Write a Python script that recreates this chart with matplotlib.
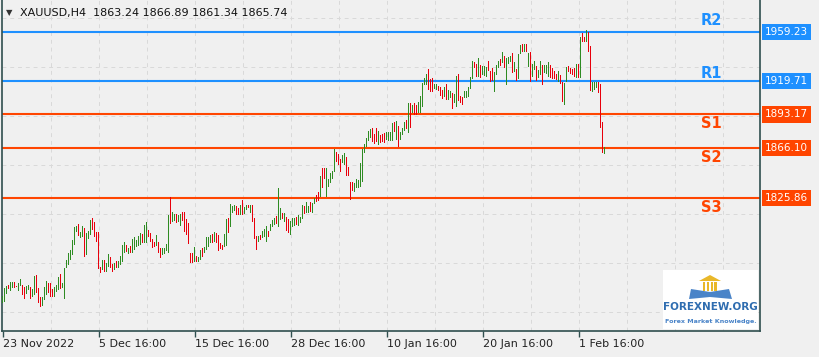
import numpy as np
import matplotlib
matplotlib.use('Agg')
import matplotlib.pyplot as plt
from matplotlib.patches import Polygon, Rectangle

# XAUUSD H4 bars (high, low, bullish flag)
highs = [1747.1, 1753.6, 1755.2, 1756.0, 1758.4, 1758.4, 1758.4, 1755.2, 1757.6, 1760.8,
         1756.0, 1754.4, 1755.2, 1756.0, 1754.4, 1752.8, 1763.2, 1764.0, 1753.6, 1746.3,
         1746.3, 1754.4, 1759.2, 1757.6, 1757.6, 1752.8, 1754.4, 1756.0, 1762.4, 1764.8,
         1757.6, 1769.6, 1776.1, 1781.7, 1784.1, 1792.1, 1802.6, 1803.4, 1805.0, 1798.6,
         1803.4, 1801.8, 1797.8, 1799.4, 1808.2, 1809.8, 1806.6, 1798.6, 1798.6, 1770.4,
         1776.1, 1776.1, 1773.7, 1780.9, 1778.5, 1772.9, 1773.7, 1775.3, 1775.3, 1779.3,
         1788.1, 1790.5, 1788.1, 1785.7, 1787.3, 1792.9, 1794.5, 1792.1, 1795.3, 1797.8,
         1797.0, 1804.2, 1806.6, 1800.2, 1797.8, 1792.9, 1790.5, 1796.1, 1790.5, 1785.7,
         1785.7, 1785.7, 1788.9, 1812.2, 1826.7, 1814.6, 1813.0, 1813.0, 1812.2, 1813.0,
         1814.6, 1814.6, 1809.0, 1805.8, 1781.7, 1781.7, 1786.5, 1779.3, 1778.5, 1784.1,
         1785.7, 1786.5, 1794.5, 1794.5, 1796.1, 1797.0, 1798.6, 1797.8, 1796.1, 1789.7,
         1788.1, 1797.0, 1809.0, 1809.8, 1821.0, 1819.4, 1820.2, 1819.4, 1817.8, 1820.2,
         1824.3, 1818.6, 1820.2, 1820.2, 1820.2, 1820.2, 1809.8, 1795.3, 1795.3, 1796.1,
         1799.4, 1801.0, 1803.4, 1799.4, 1805.0, 1808.2, 1809.8, 1811.4, 1833.9, 1817.8,
         1813.8, 1813.8, 1810.6, 1809.0, 1807.4, 1809.8, 1809.8, 1810.6, 1812.2, 1810.6,
         1820.2, 1819.4, 1822.7, 1819.4, 1822.7, 1821.9, 1825.9, 1828.3, 1830.7, 1843.5,
         1850.0, 1850.0, 1850.0, 1841.1, 1846.0, 1847.6, 1865.2, 1862.8, 1861.2, 1857.2,
         1860.4, 1862.0, 1858.8, 1850.8, 1838.7, 1838.7, 1837.9, 1841.1, 1840.3, 1854.0,
         1865.2, 1869.2, 1874.1, 1879.7, 1881.3, 1882.1, 1877.3, 1882.1, 1879.7, 1876.5,
         1877.3, 1878.1, 1878.9, 1878.9, 1878.9, 1886.1, 1886.9, 1887.7, 1883.7, 1878.9,
         1882.1, 1886.9, 1888.5, 1902.2, 1902.2, 1900.6, 1902.2, 1900.6, 1903.0, 1907.8,
         1918.3, 1922.3, 1925.5, 1929.5, 1921.5, 1922.3, 1917.5, 1917.5, 1915.9, 1915.0,
         1912.6, 1915.0, 1917.5, 1912.6, 1911.8, 1910.2, 1909.4, 1923.9, 1925.5, 1907.8,
         1907.0, 1911.8, 1911.8, 1915.0, 1923.1, 1935.9, 1935.1, 1933.5, 1938.3, 1932.7,
         1931.9, 1931.9, 1931.1, 1935.9, 1927.9, 1930.3, 1927.1, 1932.7, 1935.9, 1937.5,
         1943.2, 1940.0, 1938.3, 1939.1, 1940.0, 1942.4, 1935.1, 1929.5, 1941.6, 1948.8,
         1949.6, 1949.6, 1949.6, 1942.4, 1943.2, 1933.5, 1935.9, 1931.9, 1928.7, 1935.9,
         1932.7, 1932.7, 1932.7, 1935.1, 1932.7, 1930.3, 1927.9, 1925.5, 1927.9, 1924.7,
         1919.1, 1918.3, 1931.1, 1931.9, 1930.3, 1929.5, 1930.3, 1933.5, 1933.5, 1955.2,
         1958.4, 1955.2, 1960.8, 1959.2, 1948.0, 1919.1, 1919.1, 1919.1, 1919.1, 1917.5,
         1886.9, 1866.89]
lows = [1741.5, 1742.3, 1748.7, 1752.8, 1751.1, 1753.6, 1753.6, 1754.4, 1751.1, 1755.2,
        1747.9, 1744.7, 1748.7, 1752.0, 1744.7, 1746.3, 1747.9, 1749.5, 1741.5, 1738.3,
        1739.1, 1743.9, 1747.9, 1749.5, 1746.3, 1746.3, 1746.3, 1750.3, 1752.0, 1752.8,
        1753.6, 1744.7, 1769.6, 1772.0, 1776.1, 1780.1, 1788.1, 1798.6, 1795.3, 1793.7,
        1794.5, 1778.5, 1780.1, 1792.9, 1796.1, 1800.2, 1794.5, 1790.5, 1768.8, 1765.6,
        1768.0, 1766.4, 1766.4, 1770.4, 1769.6, 1766.4, 1768.0, 1769.6, 1769.6, 1772.0,
        1774.5, 1781.7, 1782.5, 1780.9, 1781.7, 1781.7, 1784.1, 1786.5, 1787.3, 1788.1,
        1789.7, 1789.7, 1789.7, 1794.5, 1790.5, 1785.7, 1786.5, 1787.3, 1781.7, 1777.7,
        1780.1, 1780.9, 1783.3, 1781.7, 1805.0, 1806.6, 1807.4, 1805.8, 1806.6, 1803.4,
        1807.4, 1798.6, 1796.1, 1788.9, 1773.7, 1773.7, 1774.5, 1774.5, 1774.5, 1776.1,
        1778.5, 1781.7, 1784.1, 1786.5, 1789.7, 1789.7, 1790.5, 1789.7, 1783.3, 1784.9,
        1784.1, 1786.5, 1787.3, 1797.8, 1802.6, 1813.8, 1815.4, 1812.2, 1812.2, 1812.2,
        1812.2, 1813.0, 1816.2, 1817.8, 1813.8, 1806.6, 1792.9, 1784.1, 1790.5, 1792.1,
        1793.7, 1794.5, 1790.5, 1794.5, 1799.4, 1802.6, 1804.2, 1805.0, 1802.6, 1808.2,
        1809.0, 1806.6, 1799.4, 1797.8, 1796.1, 1802.6, 1803.4, 1804.2, 1803.4, 1805.8,
        1809.0, 1813.0, 1813.8, 1813.8, 1814.6, 1813.8, 1821.0, 1822.7, 1823.5, 1826.7,
        1833.9, 1841.1, 1826.7, 1834.7, 1837.9, 1841.1, 1846.8, 1854.8, 1852.4, 1846.8,
        1854.0, 1852.4, 1843.5, 1843.5, 1824.3, 1831.5, 1830.7, 1833.9, 1833.9, 1834.7,
        1838.7, 1862.0, 1866.8, 1871.7, 1874.1, 1870.9, 1869.2, 1870.9, 1868.4, 1870.1,
        1870.9, 1870.1, 1872.5, 1871.7, 1871.7, 1871.7, 1878.9, 1872.5, 1866.8, 1872.5,
        1876.5, 1879.7, 1881.3, 1878.1, 1882.1, 1894.2, 1892.5, 1892.5, 1894.2, 1894.2,
        1899.0, 1916.7, 1916.7, 1912.6, 1911.0, 1911.0, 1913.4, 1912.6, 1911.8, 1907.8,
        1905.4, 1907.0, 1904.6, 1904.6, 1906.2, 1897.4, 1902.2, 1899.0, 1903.8, 1902.2,
        1900.6, 1906.2, 1906.2, 1907.0, 1913.4, 1921.5, 1930.3, 1923.1, 1923.1, 1922.3,
        1924.7, 1923.9, 1923.1, 1927.9, 1919.1, 1919.9, 1911.0, 1924.7, 1930.3, 1931.9,
        1934.3, 1930.3, 1916.7, 1933.5, 1935.1, 1926.3, 1927.1, 1919.9, 1921.5, 1941.6,
        1943.2, 1943.2, 1943.2, 1931.1, 1919.1, 1923.1, 1928.7, 1919.9, 1922.3, 1924.7,
        1916.7, 1926.3, 1925.5, 1923.1, 1922.3, 1921.5, 1921.5, 1920.7, 1919.1, 1917.5,
        1903.0, 1900.6, 1919.1, 1927.1, 1925.5, 1924.7, 1923.1, 1922.3, 1922.3, 1922.3,
        1951.2, 1951.2, 1951.2, 1943.2, 1911.8, 1911.0, 1912.6, 1914.2, 1910.2, 1882.1,
        1862.0, 1861.34]
# g = up bar, r = down bar, ten bars per chunk
bull = ("gggrggrrgg" "rrggrggrrr" "gggrrrgggr" "ggggggggrg" "grgggrrrrr"
        "grggrrgrgg" "ggrgrggggg" "rggrrrrgrr" "ggggrggrgg" "rrrrrrgrgg"
        "rggggrgrrr" "rggrgggrrg" "rggrgrrrgr" "gggrgggrgg" "rgrrgggrgg"
        "grggrggrrg" "rrgggggrrr" "ggrrrrgggg" "gggggrrrgr" "rrggggrgrg"
        "ggrgrgrrgg" "gggrrrggrr" "rgrggrggrr" "rgggggrrgr" "gggrrrgggr"
        "grgggrgrgg" "rgrgrggrgg" "rgggrrrrgr" "rggrrrrgrg" "rrgrrgggrr"
        "rg")

title = "XAUUSD,H4  1863.24 1866.89 1861.34 1865.74"
tick_pos = [0, 48, 96, 144, 192, 240, 288]
tick_lab = ["23 Nov 2022", "5 Dec 16:00", "15 Dec 16:00", "28 Dec 16:00",
            "10 Jan 16:00", "20 Jan 16:00", "1 Feb 16:00"]
level_names = ["R2", "R1", "S1", "S2", "S3"]
level_vals = [1959.23, 1919.71, 1893.17, 1866.10, 1825.86]
grid_prices = [1970.5, 1931.1, 1891.7, 1852.4, 1813.0, 1773.6, 1734.3]

n = len(highs)

BG = "#f0f0f0"
GREEN = "#2e8b22"
RED = "#e8000b"
BLUE = "#1e90ff"
ORANGE = "#ff4500"
FRAME = "#2f4f4f"

W, H = 820, 357
fig = plt.figure(figsize=(W / 100, H / 100), dpi=100, facecolor=BG)
ax = fig.add_axes([2 / W, (H - 331) / H, 758 / W, 331 / H])
ax.set_facecolor(BG)

x = np.arange(n)
hi = np.array(highs)
lo = np.array(lows)
cols = [GREEN if b == "g" else RED for b in bull]
# each bar one pixel wide (0.5 bar-slot = 1 px at this zoom)
ax.bar(x, hi - lo, bottom=lo, width=0.5, color=cols, linewidth=0,
       antialiased=False, zorder=3)

ax.set_xlim(-0.5, 378.5)
ax.set_ylim(1719.0, 1984.9)

for gx in range(24, 379, 24):
    ax.axvline(gx, color="#d9d9d9", lw=0.7, ls=(0, (4, 4)), zorder=1)
for gy in grid_prices:
    ax.axhline(gy, color="#d9d9d9", lw=0.7, ls=(0, (4, 4)), zorder=1)

offsets = {"R2": -11, "R1": -7.5, "S1": 9, "S2": 9.5, "S3": 10}
for name, val in zip(level_names, level_vals):
    c = BLUE if name.startswith("R") else ORANGE
    ax.axhline(val, color=c, lw=1.5, zorder=2)
    ax.annotate(name, xy=(709.5 / 758, val), xycoords=ax.get_yaxis_transform(),
                xytext=(0, -offsets[name] * 0.72), textcoords="offset points",
                ha="center", va="center", fontsize=10.5, fontweight="bold", color=c)
    ax.text((765 - 2) / 758, val, f"{val:.2f}", transform=ax.get_yaxis_transform(),
            ha="left", va="center", fontsize=7.5, color="white", clip_on=False,
            bbox=dict(boxstyle="square,pad=0.32", fc=c, ec="none"))

for s in ["left", "bottom", "right"]:
    ax.spines[s].set_color(FRAME)
    ax.spines[s].set_linewidth(1.2)
ax.spines["top"].set_visible(False)
ax.set_yticks([])
ax.set_xticks(tick_pos)
ax.set_xticklabels(tick_lab, ha="left", fontsize=8, color="#222222")
ax.tick_params(axis="x", direction="out", length=4, width=1, color=FRAME, pad=2)

fig.text(6 / W, 1 - 13 / H, "\u25bc", fontsize=6, color="#333333", va="center")
fig.text(20 / W, 1 - 13 / H, title, fontsize=8, color="#111111", va="center")

# logo box
lg = fig.add_axes([663 / W, (H - 329) / H, 95 / W, 59 / H])
lg.set_xlim(0, 95)
lg.set_ylim(59, 0)
lg.set_facecolor("white")
lg.set_xticks([])
lg.set_yticks([])
for s in lg.spines.values():
    s.set_visible(False)
gold = "#e9b82a"
lg.add_patch(Polygon([(36, 11), (47, 5), (58, 11)], closed=True, fc=gold, ec="none"))
for cx in [39.5, 43.5, 47.5, 51.5]:
    lg.add_patch(Rectangle((cx, 11.5), 2.4, 9, fc=gold, ec="none"))
lg.add_patch(Polygon([(28, 19), (47, 22), (66, 19), (69, 29), (47, 27), (26, 29)],
                     closed=True, fc="#4a84c8", ec="none"))
lg.text(47.5, 37, "FOREXNEW.ORG", ha="center", va="center", fontsize=7.5,
        fontweight="bold", color="#2f6db0")
lg.text(47.5, 51, "Forex Market Knowledge.", ha="center", va="center", fontsize=4.6,
        fontweight="bold", color="#4a84c8")

fig.savefig("out.png", dpi=100, facecolor=BG)
